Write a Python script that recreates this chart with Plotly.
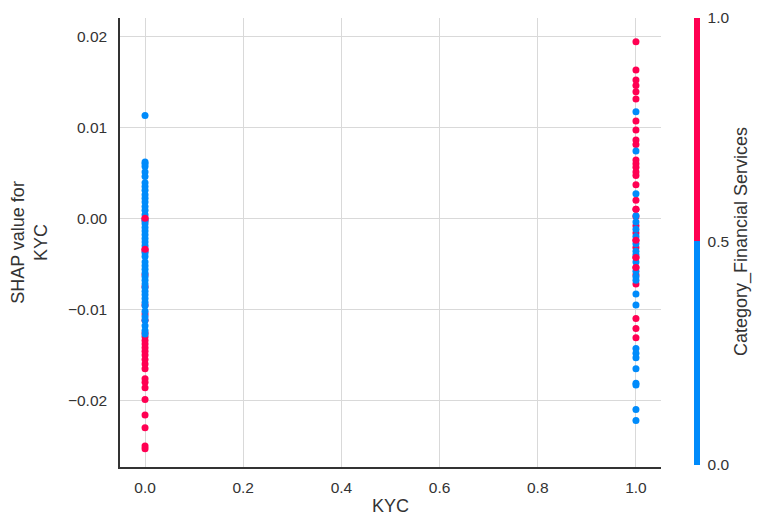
import plotly.graph_objects as go

# SHAP values at KYC = 0
kyc0_blue = [0.0113, 0.0062, 0.0060, 0.0057, 0.0051, 0.0046, 0.0039, 0.0035, 0.0031, 0.0026,
             0.0022, 0.0018, 0.0013, 0.0009, 0.0004, -0.0002, -0.0006, -0.0010, -0.0014, -0.0018,
             -0.0022, -0.0026, -0.0030, -0.0038, -0.0042, -0.0048, -0.0052, -0.0056, -0.0060,
             -0.0064, -0.0068, -0.0072, -0.0076, -0.0080, -0.0084, -0.0088, -0.0092, -0.0096,
             -0.0102, -0.0108, -0.0112, -0.0118, -0.0123, -0.0127]
kyc0_red = [0.0000, -0.0003, -0.0034, -0.0036, -0.0062, -0.0075, -0.0095, -0.0105, -0.0112,
            -0.0126, -0.0130, -0.0134, -0.0138, -0.0142, -0.0146, -0.0150, -0.0155, -0.0160,
            -0.0165, -0.0176, -0.0180, -0.0186, -0.0199, -0.0216, -0.0230, -0.0250, -0.0253]

# SHAP values at KYC = 1
kyc1_red = [0.0194, 0.0163, 0.0152, 0.0146, 0.0139, 0.0131, 0.0107, 0.0097, 0.0086, 0.0081,
            0.0064, 0.0060, 0.0056, 0.0051, 0.0047, 0.0037, 0.0020, 0.0010, 0.0002, -0.0008,
            -0.0016, -0.0024, -0.0032, -0.0043, -0.0054, -0.0062, -0.0072, -0.0110, -0.0121,
            -0.0131]
kyc1_blue = [0.0117, 0.0074, 0.0027, 0.0003, -0.0004, -0.0012, -0.0020, -0.0028, -0.0036,
             -0.0040, -0.0048, -0.0058, -0.0064, -0.0068, -0.0083, -0.0095, -0.0143, -0.0148,
             -0.0153, -0.0165, -0.0181, -0.0183, -0.0210, -0.0222]

# a few red points drawn on top of blue in the mixed region
top_red_x = [0.0, 0.0, 1.0, 1.0, 1.0, 1.0]
top_red_y = [0.0000, -0.0034, -0.0024, -0.0043, -0.0054, 0.0010]

x_vals = [0.0] * len(kyc0_red) + [1.0] * len(kyc1_red) + [0.0] * len(kyc0_blue) + [1.0] * len(kyc1_blue) + top_red_x
y_vals = kyc0_red + kyc1_red + kyc0_blue + kyc1_blue + top_red_y
c_vals = [1] * len(kyc0_red) + [1] * len(kyc1_red) + [0] * len(kyc0_blue) + [0] * len(kyc1_blue) + [1] * len(top_red_x)

BLUE = "#008bfb"
RED = "#ff0052"
TXT = "#333333"

fig = go.Figure(go.Scatter(
    x=x_vals, y=y_vals, mode="markers",
    marker=dict(
        size=7, color=c_vals, cmin=0, cmax=1,
        colorscale=[[0, BLUE], [0.5, BLUE], [0.5, RED], [1, RED]],
        line=dict(width=0),
        showscale=True,
        colorbar=dict(
            x=1.061, xanchor="left", xpad=0, y=0.0045, yanchor="bottom", ypad=0,
            lenmode="pixels", len=447, thickness=6, outlinewidth=0,
            tickvals=[0, 0.5, 1], ticktext=["0.0", "0.5", "1.0"],
            ticks="outside", ticklen=5, tickcolor="rgba(0,0,0,0)",
            tickfont=dict(size=15.5, color=TXT),
            title=dict(text="Category_Financial Services", side="right",
                       font=dict(size=18, color=TXT)),
        ),
    ),
    showlegend=False,
))

# page body has an 8px default margin; compensate so the plot lands where the reference has it
fig.update_layout(
    width=754, height=516,
    margin=dict(l=112, r=101, t=10, b=57, autoexpand=False),
    paper_bgcolor="white", plot_bgcolor="white",
    font=dict(family="Liberation Sans, Arial, sans-serif", color=TXT),
    xaxis=dict(
        range=[-0.051, 1.051], tickvals=[0, 0.2, 0.4, 0.6, 0.8, 1.0], tickformat=".1f",
        showgrid=True, gridcolor="#d9d9d9", gridwidth=1, zeroline=False,
        showline=True, linecolor=TXT, linewidth=1.5, ticks="", ticklabelstandoff=6,
        tickfont=dict(size=15.5, color=TXT),
        title=dict(text="KYC", font=dict(size=18, color=TXT), standoff=4),
    ),
    yaxis=dict(
        range=[-0.0273, 0.0220], tickvals=[-0.02, -0.01, 0.0, 0.01, 0.02], tickformat=".2f",
        showgrid=True, gridcolor="#d9d9d9", gridwidth=1, zeroline=False,
        showline=True, linecolor=TXT, linewidth=1.5, ticks="", ticklabelstandoff=8,
        tickfont=dict(size=15.5, color=TXT),
        title=dict(text="SHAP value for<br>KYC", font=dict(size=18, color=TXT), standoff=20),
    ),
)

fig.write_html("out.html")
